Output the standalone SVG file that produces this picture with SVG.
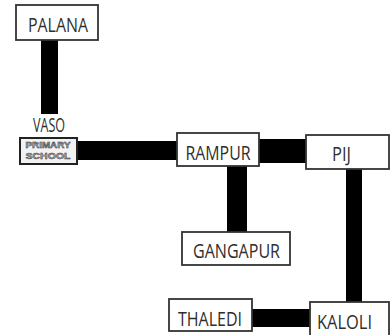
<svg xmlns="http://www.w3.org/2000/svg" width="390" height="335" viewBox="0 0 390 335">
<style>
.box{fill:#fff;stroke:#333;stroke-width:1.8}
.lbl{font-family:"Open Sans","Liberation Sans",sans-serif;font-size:20.5px;fill:#2e2e2e;text-anchor:middle}
.ps{font-family:"Liberation Sans",sans-serif;font-weight:bold;fill:#b0b0b0;stroke:#333;stroke-width:0.45;text-anchor:middle}
.road{stroke:#000;fill:none}
</style>
<rect width="390" height="335" fill="#fff"/>
<g id="connectors">
<line class="road" x1="49.5" y1="40" x2="49.5" y2="114" stroke-width="17"/>
<line class="road" x1="76" y1="150.5" x2="178" y2="150.5" stroke-width="19"/>
<line class="road" x1="258" y1="151" x2="308" y2="151" stroke-width="24"/>
<line class="road" x1="237" y1="165" x2="237" y2="233" stroke-width="20"/>
<line class="road" x1="354" y1="168" x2="354" y2="303" stroke-width="16"/>
<line class="road" x1="251" y1="318" x2="311" y2="318" stroke-width="18"/>
</g>
<g id="palana">
<rect class="box" x="16" y="5" width="82" height="35"/>
<text class="lbl" x="58" y="31.5" textLength="60" lengthAdjust="spacingAndGlyphs">PALANA</text>
</g>
<g id="vaso">
<text class="lbl" x="49" y="132" textLength="32" lengthAdjust="spacingAndGlyphs">VASO</text>
<rect x="20" y="138" width="57" height="26" fill="#f2f2f2" stroke="#222" stroke-width="2"/>
<text class="ps" x="48" y="148" font-size="8.5" textLength="45" lengthAdjust="spacingAndGlyphs">PRIMARY</text>
<text class="ps" x="48" y="159" font-size="9" textLength="45" lengthAdjust="spacingAndGlyphs">SCHOOL</text>
</g>
<g id="rampur">
<rect class="box" x="177" y="133" width="82" height="33"/>
<text class="lbl" x="218" y="159.5" textLength="65" lengthAdjust="spacingAndGlyphs">RAMPUR</text>
</g>
<g id="pij">
<rect class="box" x="306" y="135" width="83" height="34"/>
<text class="lbl" x="341.5" y="160.5" textLength="19" lengthAdjust="spacingAndGlyphs">PIJ</text>
</g>
<g id="gangapur">
<rect class="box" x="182" y="232" width="108" height="33"/>
<text class="lbl" x="236.5" y="257.5" textLength="87" lengthAdjust="spacingAndGlyphs">GANGAPUR</text>
</g>
<g id="thaledi">
<rect class="box" x="169" y="299" width="83" height="32"/>
<text class="lbl" x="210" y="325.5" textLength="64" lengthAdjust="spacingAndGlyphs">THALEDI</text>
</g>
<g id="kaloli">
<rect class="box" x="310" y="302" width="79" height="40"/>
<text class="lbl" x="344.5" y="328.5" textLength="55" lengthAdjust="spacingAndGlyphs">KALOLI</text>
</g>
</svg>
